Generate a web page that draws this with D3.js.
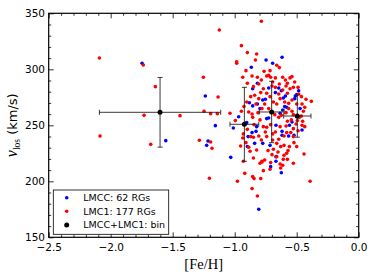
<!DOCTYPE html>
<html>
<head>
<meta charset="utf-8">
<script src="https://cdn.jsdelivr.net/npm/d3@7"></script>
<style>
  body { margin: 0; background: #fff; }
</style>
</head>
<body>
<div id="chart"></div>
<script>
// LMCC sample (blue)
let lmccFe = [-1.747, -1.556, -1.237, -1.226, -1.215, -1.156, -1.032, -1.011, -0.968, -0.866,
  -0.747, -0.694, -0.618, -0.817, -0.882, -0.855, -0.774, -0.753, -0.726, -0.817,
  -0.624, -0.591, -0.597, -0.581, -0.613, -0.511, -0.516, -0.500, -0.473, -0.538,
  -0.500, -0.457, -0.565, -0.618, -0.618, -0.742, -0.823, -0.903, -0.892, -0.839,
  -0.774, -0.715, -0.667, -0.710, -0.667, -0.624, -0.806, -0.828, -0.860, -0.909,
  -0.855, -0.645, -0.672, -0.559, -0.522, -0.667, -0.608, -0.484, -0.634, -0.726,
  -0.796, -0.898];
let lmccV = [305.4, 236.3, 276.2, 232.1, 236.0, 249.7, 221.4, 247.6, 257.7, 301.8,
  308.3, 305.4, 310.7, 287.5, 270.2, 267.3, 272.6, 273.2, 283.3, 269.0,
  280.9, 276.2, 266.7, 266.1, 263.7, 276.2, 273.8, 277.4, 264.9, 253.0,
  257.7, 245.8, 240.5, 241.1, 244.6, 256.0, 248.8, 252.4, 239.9, 233.9,
  233.9, 232.1, 222.0, 213.1, 217.9, 207.7, 175.0, 244.6, 243.5, 251.8,
  282.7, 283.3, 279.2, 250.0, 241.1, 250.0, 274.4, 280.9, 260.7, 256.5,
  264.9, 231.0];

// LMC1 sample (red)
let lmc1Fe = [-2.091, -2.086, -1.737, -1.640, -1.731, -1.677, -1.441, -1.253, -1.247, -1.285,
  -1.194, -1.183, -1.194, -1.140, -1.134, -1.204, -1.124, -1.038, -0.995, -0.978,
  -0.984, -0.984, -0.946, -0.898, -0.833, -0.823, -0.785, -0.661, -0.640, -0.935,
  -0.909, -0.860, -0.898, -0.849, -0.817, -0.806, -0.785, -0.763, -0.742, -0.726,
  -0.715, -0.710, -0.694, -0.672, -0.640, -0.613, -0.591, -0.575, -0.554, -0.538,
  -0.516, -0.489, -0.484, -0.462, -0.425, -0.382, -0.457, -0.435, -0.446, -0.462,
  -0.452, -0.435, -0.457, -0.495, -0.489, -0.527, -0.522, -0.500, -0.559, -0.581,
  -0.570, -0.602, -0.602, -0.608, -0.634, -0.613, -0.629, -0.661, -0.699, -0.710,
  -0.715, -0.758, -0.780, -0.796, -0.849, -0.887, -0.909, -0.871, -0.849, -0.935,
  -0.952, -0.930, -0.919, -0.855, -0.844, -0.860, -0.817, -0.790, -0.769, -0.780,
  -0.823, -0.806, -0.785, -0.753, -0.742, -0.710, -0.694, -0.672, -0.645, -0.634,
  -0.586, -0.575, -0.543, -0.527, -0.538, -0.565, -0.586, -0.624, -0.645, -0.677,
  -0.704, -0.726, -0.758, -0.780, -0.812, -0.828, -0.860, -0.887, -0.855, -0.898,
  -0.930, -0.844, -0.796, -0.769, -0.742, -0.694, -0.661, -0.629, -0.602, -0.581,
  -0.548, -0.527, -0.505, -0.478, -0.575, -0.554, -0.538, -0.565, -0.597, -0.634,
  -0.661, -0.688, -0.715, -0.742, -0.769, -0.790, -0.806, -0.839, -0.871, -0.903,
  -0.925, -0.946, -0.699, -0.672, -0.645, -0.613, -0.586, -0.527, -0.500, -0.392,
  -0.527, -0.441, -0.876, -0.651, -0.575, -0.731, -0.688];
let lmc1V = [310.1, 240.5, 303.9, 284.5, 258.9, 233.0, 258.6, 292.9, 262.5, 236.6,
  235.1, 229.5, 260.4, 260.4, 275.3, 202.7, 335.1, 260.7, 254.2, 200.0,
  306.8, 305.4, 321.1, 314.9, 308.3, 313.7, 342.9, 303.6, 301.5, 292.9,
  298.8, 294.0, 287.5, 284.5, 292.9, 286.9, 290.5, 298.2, 294.0, 294.6,
  298.8, 292.9, 288.7, 292.3, 286.9, 292.9, 290.5, 287.5, 292.3, 293.5,
  288.7, 283.9, 278.0, 275.6, 273.2, 271.4, 269.0, 266.1, 262.5, 258.3,
  253.6, 248.8, 250.0, 254.2, 245.2, 239.9, 234.5, 231.0, 231.0, 225.0,
  227.4, 232.1, 223.2, 219.6, 215.5, 214.3, 211.9, 222.0, 223.8, 216.7,
  210.7, 219.0, 217.9, 216.1, 220.8, 230.4, 234.5, 239.9, 239.3, 238.7,
  231.5, 217.9, 207.1, 204.2, 202.4, 193.5, 186.9, 202.4, 209.5, 217.3,
  228.0, 240.5, 236.9, 244.0, 248.2, 250.6, 242.3, 244.0, 237.5, 248.8,
  249.4, 253.6, 254.8, 259.5, 262.5, 264.9, 261.3, 258.9, 257.1, 259.5,
  261.3, 264.9, 269.0, 264.9, 261.3, 269.0, 260.1, 261.9, 257.1, 246.4,
  242.3, 250.6, 254.8, 248.8, 239.9, 236.9, 233.9, 231.0, 240.5, 243.5,
  243.5, 247.0, 251.2, 257.1, 278.6, 282.7, 272.6, 269.6, 270.8, 273.8,
  269.0, 270.8, 275.6, 278.6, 282.7, 279.2, 273.8, 276.8, 275.6, 270.8,
  266.7, 262.5, 285.1, 283.9, 278.0, 281.5, 285.1, 283.9, 269.0, 200.0,
  216.1, 224.4, 226.8, 226.2, 219.6, 227.4, 228.6];

// LMCC+LMC1 binned means with errors
let binFe = [-1.602, -0.922, -0.702, -0.495];
let binFeErr = [0.489, 0.116, 0.100, 0.110];
let binV = [261.6, 250.9, 261.9, 258.3];
let binVErr = [31.1, 33.0, 27.4, 18.9];

let xTicks = [-2.5, -2.0, -1.5, -1.0, -0.5, 0.0];
let yTicks = [150, 200, 250, 300, 350];

let legendLabels = ["LMCC: 62 RGs", "LMC1: 177 RGs", "LMCC+LMC1: bin"];

let width = 374;
let height = 280;
let margin = { top: 13.3, right: 15.3, bottom: 42.7, left: 48.7 };

let sans = "DejaVu Sans, sans-serif";
let serif = "Liberation Serif, serif";

let x = d3.scaleLinear().domain([-2.5, 0]).range([margin.left, width - margin.right]);
let y = d3.scaleLinear().domain([150, 350]).range([height - margin.bottom, margin.top]);

let svg = d3.select("#chart")
  .append("svg")
  .attr("width", width)
  .attr("height", height);

let fmt = d => d3.format(".1f")(d).replace("-", "\u2212");

let minorX = d3.range(-25, 1).map(d => d / 10).filter(d => !xTicks.includes(d));
let minorY = d3.range(150, 351, 10).filter(d => !yTicks.includes(d));

let x0 = margin.left, x1 = width - margin.right;
let y0 = height - margin.bottom, y1 = margin.top;

// axes with inward ticks on all four sides
svg.append("g")
  .attr("transform", `translate(0,${y0})`)
  .call(d3.axisBottom(x).tickValues(xTicks).tickFormat(fmt).tickSize(-5).tickPadding(6.3))
  .call(g => g.select(".domain").remove());
svg.append("g")
  .attr("transform", `translate(0,${y0})`)
  .call(d3.axisBottom(x).tickValues(minorX).tickFormat("").tickSize(-2.5))
  .call(g => g.select(".domain").remove());
svg.append("g")
  .attr("transform", `translate(0,${y1})`)
  .call(d3.axisTop(x).tickValues(xTicks).tickFormat("").tickSize(-5))
  .call(g => g.select(".domain").remove());
svg.append("g")
  .attr("transform", `translate(0,${y1})`)
  .call(d3.axisTop(x).tickValues(minorX).tickFormat("").tickSize(-2.5))
  .call(g => g.select(".domain").remove());

svg.append("g")
  .attr("transform", `translate(${x0},0)`)
  .call(d3.axisLeft(y).tickValues(yTicks).tickSize(-5).tickPadding(3.7))
  .call(g => g.select(".domain").remove());
svg.append("g")
  .attr("transform", `translate(${x0},0)`)
  .call(d3.axisLeft(y).tickValues(minorY).tickFormat("").tickSize(-2.5))
  .call(g => g.select(".domain").remove());
svg.append("g")
  .attr("transform", `translate(${x1},0)`)
  .call(d3.axisRight(y).tickValues(yTicks).tickFormat("").tickSize(-5))
  .call(g => g.select(".domain").remove());
svg.append("g")
  .attr("transform", `translate(${x1},0)`)
  .call(d3.axisRight(y).tickValues(minorY).tickFormat("").tickSize(-2.5))
  .call(g => g.select(".domain").remove());

svg.selectAll(".tick text")
  .style("font-size", "10.5px")
  .style("font-family", sans)
  .attr("fill", "#000");
svg.selectAll(".tick line").attr("stroke", "#000").attr("stroke-width", 0.8);

// points
let lmcc = lmccFe.map((d, i) => ({ fe: d, v: lmccV[i] }));
let lmc1 = lmc1Fe.map((d, i) => ({ fe: d, v: lmc1V[i] }));

svg.append("g")
  .selectAll("circle")
  .data(lmcc)
  .enter()
  .append("circle")
  .attr("cx", d => x(d.fe))
  .attr("cy", d => y(d.v))
  .attr("r", 1.8)
  .attr("fill", "#0000ff");

svg.append("g")
  .selectAll("circle")
  .data(lmc1)
  .enter()
  .append("circle")
  .attr("cx", d => x(d.fe))
  .attr("cy", d => y(d.v))
  .attr("r", 1.8)
  .attr("fill", "#ff0000");

// binned means with error bars
let bins = binFe.map((d, i) => ({ fe: d, fe_err: binFeErr[i], v: binV[i], v_err: binVErr[i] }));
let cap = 2.5;
let eb = svg.append("g").attr("stroke", "#222").attr("stroke-width", 0.9);
bins.forEach(d => {
  let cx = x(d.fe), cy = y(d.v);
  let xl = x(d.fe - d.fe_err), xr = x(d.fe + d.fe_err);
  let yt = y(d.v + d.v_err), yb = y(d.v - d.v_err);
  eb.append("line").attr("x1", xl).attr("x2", xr).attr("y1", cy).attr("y2", cy);
  eb.append("line").attr("x1", cx).attr("x2", cx).attr("y1", yt).attr("y2", yb);
  eb.append("line").attr("x1", xl).attr("x2", xl).attr("y1", cy - cap).attr("y2", cy + cap);
  eb.append("line").attr("x1", xr).attr("x2", xr).attr("y1", cy - cap).attr("y2", cy + cap);
  eb.append("line").attr("x1", cx - cap).attr("x2", cx + cap).attr("y1", yt).attr("y2", yt);
  eb.append("line").attr("x1", cx - cap).attr("x2", cx + cap).attr("y1", yb).attr("y2", yb);
});
svg.append("g")
  .selectAll("circle")
  .data(bins)
  .enter()
  .append("circle")
  .attr("cx", d => x(d.fe))
  .attr("cy", d => y(d.v))
  .attr("r", 2.5)
  .attr("fill", "#000");

// frame
svg.append("rect")
  .attr("x", x0).attr("y", y1)
  .attr("width", x1 - x0).attr("height", y0 - y1)
  .attr("fill", "none")
  .attr("stroke", "#000")
  .attr("stroke-width", 1.2);

// legend
let lg = svg.append("g").attr("transform", "translate(53.3,190)");
lg.append("rect")
  .attr("width", 115.4).attr("height", 44.3)
  .attr("fill", "#fff").attr("stroke", "#000").attr("stroke-width", 0.8);
let legendColors = ["#0000ff", "#ff0000", "#000"];
let legendR = [1.8, 1.8, 2.5];
legendLabels.forEach((t, i) => {
  let cy = 7.7 + i * 13.6;
  lg.append("circle").attr("cx", 13.4).attr("cy", cy).attr("r", legendR[i]).attr("fill", legendColors[i]);
  lg.append("text").attr("x", 30).attr("y", cy + 3.4)
    .style("font-family", sans).style("font-size", "9.5px")
    .attr("fill", "#000").text(t);
});

// axis titles
svg.append("text")
  .attr("x", (x0 + x1) / 2)
  .attr("y", 269)
  .attr("text-anchor", "middle")
  .style("font-family", serif)
  .style("font-size", "14.5px")
  .attr("fill", "#000")
  .text("[Fe/H]");

let yl = svg.append("text")
  .attr("transform", `translate(17,${(y0 + y1) / 2}) rotate(-90)`)
  .attr("text-anchor", "middle")
  .attr("fill", "#000");
yl.append("tspan").style("font-family", serif).style("font-style", "italic").style("font-size", "16px").text("v");
yl.append("tspan").style("font-family", serif).style("font-size", "9.5px").attr("dy", 2.5).text("los");
yl.append("tspan").style("font-family", sans).style("font-size", "13px").attr("dy", -2.5).text(" (km/s)");
</script>
</body>
</html>
